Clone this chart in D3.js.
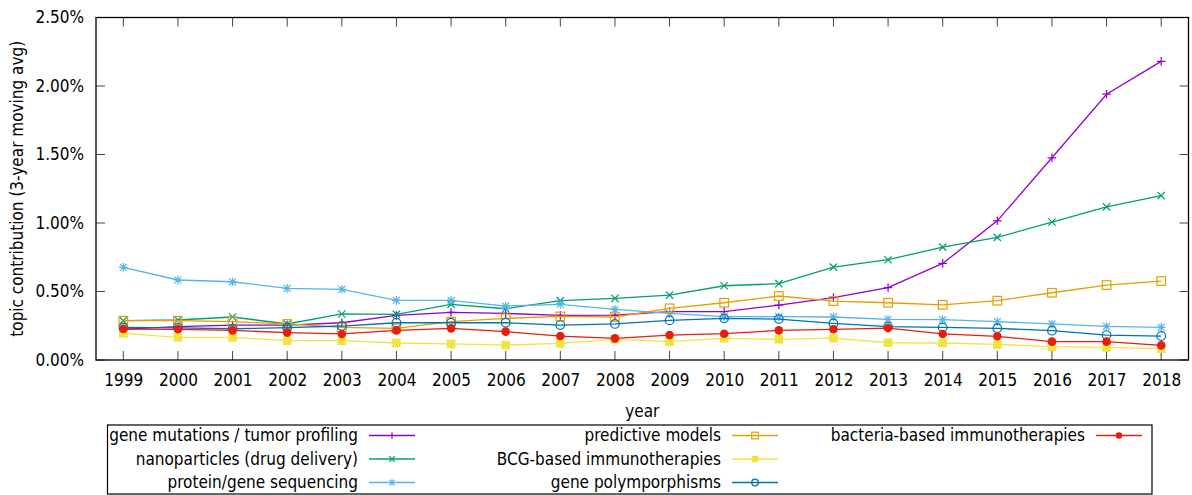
<!DOCTYPE html>
<html><head><meta charset="utf-8">
<script src="https://cdn.jsdelivr.net/npm/d3@7"></script>
<style>
html,body{margin:0;padding:0;background:#fff;}
svg text{font-family:"DejaVu Sans Condensed","DejaVu Sans",sans-serif;font-stretch:condensed;fill:#000;}
</style></head>
<body><svg id="c" width="1192" height="495"></svg>
<script>
const years = [1999,2000,2001,2002,2003,2004,2005,2006,2007,2008,2009,2010,2011,2012,2013,2014,2015,2016,2017,2018];
const yTicks = [0,0.5,1.0,1.5,2.0,2.5];
const seriesNames = ["gene mutations / tumor profiling","nanoparticles (drug delivery)","protein/gene sequencing","predictive models","BCG-based immunotherapies","gene polymporphisms","bacteria-based immunotherapies"];
const geneMutations = [0.226,0.243,0.255,0.255,0.272,0.325,0.348,0.340,0.326,0.328,0.353,0.353,0.401,0.455,0.528,0.705,1.016,1.476,1.940,2.180];
const nanoparticles = [0.287,0.292,0.314,0.263,0.336,0.333,0.406,0.374,0.433,0.450,0.474,0.542,0.557,0.678,0.732,0.824,0.895,1.007,1.118,1.200];
const proteinSeq = [0.676,0.584,0.571,0.523,0.516,0.435,0.435,0.394,0.406,0.370,0.340,0.316,0.316,0.314,0.297,0.294,0.280,0.263,0.246,0.238];
const predictive = [0.287,0.287,0.280,0.263,0.238,0.231,0.280,0.304,0.318,0.314,0.377,0.418,0.467,0.430,0.418,0.403,0.433,0.491,0.547,0.576];
const bcg = [0.195,0.165,0.165,0.141,0.141,0.124,0.117,0.109,0.121,0.151,0.134,0.158,0.151,0.160,0.126,0.124,0.114,0.097,0.092,0.083];
const polymorph = [0.238,0.235,0.228,0.236,0.248,0.272,0.272,0.272,0.255,0.263,0.289,0.304,0.299,0.267,0.243,0.238,0.231,0.214,0.182,0.175];
const bacteria = [0.226,0.224,0.216,0.200,0.190,0.216,0.231,0.207,0.175,0.158,0.182,0.192,0.216,0.224,0.233,0.190,0.173,0.134,0.134,0.107];

const allValues = [geneMutations,nanoparticles,proteinSeq,predictive,bcg,polymorph,bacteria];
const colors = ["#9400d3","#009e73","#56b4e9","#e69f00","#f0e442","#0072b2","#e51e10"];
const markers = ["plus","cross","star","osquare","fsquare","ocircle","fcircle"];
const FS = 17;

const svg = d3.select("#c");
const L=96,R=1188.5,T=17.5,B=360;
const x = d3.scaleLinear().domain([1998.5,2018.5]).range([L,R]);
const y = d3.scaleLinear().domain([0,2.5]).range([B,T]);

function drawMarker(g, type, color, s){
  if(type==="plus"){g.append("path").attr("d",`M${-s},0H${s}M0,${-s}V${s}`).attr("stroke",color).attr("stroke-width",1.2).attr("fill","none");}
  else if(type==="cross"){const c=s*0.85;g.append("path").attr("d",`M${-c},${-c}L${c},${c}M${-c},${c}L${c},${-c}`).attr("stroke",color).attr("stroke-width",1.2).attr("fill","none");}
  else if(type==="star"){const c=s*0.8;g.append("path").attr("d",`M${-s},0H${s}M0,${-s}V${s}M${-c},${-c}L${c},${c}M${-c},${c}L${c},${-c}`).attr("stroke",color).attr("stroke-width",1.2).attr("fill","none");}
  else if(type==="osquare"){g.append("rect").attr("x",-s).attr("y",-s).attr("width",2*s).attr("height",2*s).attr("stroke",color).attr("stroke-width",1.2).attr("fill","none");}
  else if(type==="fsquare"){g.append("rect").attr("x",-s).attr("y",-s).attr("width",2*s).attr("height",2*s).attr("fill",color);}
  else if(type==="ocircle"){g.append("circle").attr("r",s).attr("stroke",color).attr("stroke-width",1.2).attr("fill","none");}
  else if(type==="fcircle"){g.append("circle").attr("r",s).attr("fill",color);}
}

// ticks (inward, mirrored)
const tickG = svg.append("g").attr("stroke","#444").attr("stroke-width",1);
yTicks.forEach(v=>{
  tickG.append("line").attr("x1",L).attr("x2",L+9).attr("y1",y(v)).attr("y2",y(v));
  tickG.append("line").attr("x1",R-9).attr("x2",R).attr("y1",y(v)).attr("y2",y(v));
});
years.forEach(v=>{
  tickG.append("line").attr("x1",x(v)).attr("x2",x(v)).attr("y1",B).attr("y2",B-9);
  tickG.append("line").attr("x1",x(v)).attr("x2",x(v)).attr("y1",T).attr("y2",T+9);
});

// tick labels via d3 axes (labels only)
const fmt = d => d3.format(".2f")(d)+"%";
const yAxis = svg.append("g").attr("transform",`translate(${L},0)`)
  .call(d3.axisLeft(y).tickValues(yTicks).tickFormat(fmt).tickSize(0).tickPadding(12));
yAxis.select(".domain").remove();
yAxis.selectAll("text").attr("font-size",FS).attr("fill","#000");
const xAxis = svg.append("g").attr("transform",`translate(0,${B})`)
  .call(d3.axisBottom(x).tickValues(years).tickFormat(d3.format("d")).tickSize(0).tickPadding(14));
xAxis.select(".domain").remove();
xAxis.selectAll("text").attr("font-size",FS).attr("fill","#000");

// series
const line = d3.line().x((d,i)=>x(years[i])).y(d=>y(d));
allValues.forEach((vals,k)=>{
  svg.append("path").datum(vals).attr("d",line).attr("fill","none").attr("stroke",colors[k]).attr("stroke-width",1.3);
  vals.forEach((v,i)=>{
    const g = svg.append("g").attr("transform",`translate(${x(years[i])},${y(v)})`);
    drawMarker(g,markers[k],colors[k],4.3);
  });
});

// border
svg.append("rect").attr("x",L).attr("y",T).attr("width",R-L).attr("height",B-T).attr("fill","none").attr("stroke","#000").attr("stroke-width",1.3);

// axis titles
svg.append("text").attr("x",(L+R)/2).attr("y",417).attr("text-anchor","middle").attr("font-size",FS).text("year");
svg.append("text").attr("transform",`translate(23,${(T+B)/2}) rotate(-90)`).attr("text-anchor","middle").attr("font-size",FS).text("topic contribution (3-year moving avg)");

// legend
const lg = svg.append("g");
lg.append("rect").attr("x",107.5).attr("y",425).attr("width",1044.5).attr("height",69).attr("fill","#fff").attr("stroke","#000").attr("stroke-width",1.2);
const colTextRight = [358,721,1085];
const rowY = [435.5,459,482.5];
seriesNames.forEach((n,k)=>{
  const c = Math.floor(k/3), r = k%3;
  const tx = colTextRight[c], ty = rowY[r];
  lg.append("text").attr("x",tx).attr("y",ty).attr("dy","0.35em").attr("text-anchor","end").attr("font-size",FS).text(n);
  lg.append("line").attr("x1",tx+11).attr("x2",tx+57).attr("y1",ty).attr("y2",ty).attr("stroke",colors[k]).attr("stroke-width",1.3);
  const g = lg.append("g").attr("transform",`translate(${tx+34},${ty})`);
  drawMarker(g,markers[k],colors[k],3.3);
});
</script></body></html>
